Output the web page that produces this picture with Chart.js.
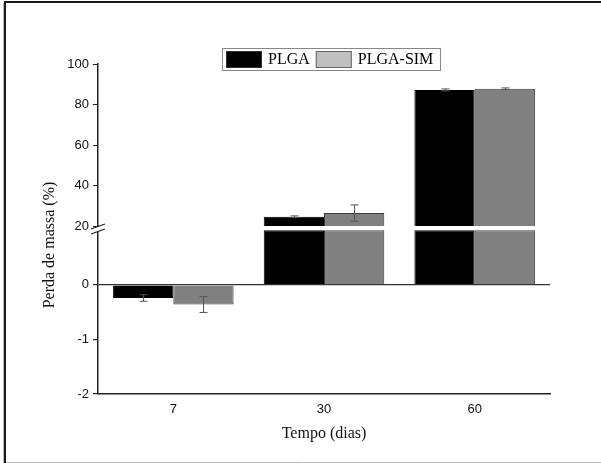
<!DOCTYPE html>
<html>
<head>
<meta charset="utf-8">
<script src="https://cdn.jsdelivr.net/npm/chart.js@4"></script>
<style>
  html, body { margin: 0; padding: 0; background: #fff; }
  #wrap { width: 601px; height: 463px; position: relative; }
</style>
</head>
<body>
<div id="wrap"><canvas id="grafico" width="601" height="463"></canvas></div>
<script>
// dados
const dias = ['7', '30', '60'];
const plga = [-0.24, 24.6, 87.2];
const plgaErro = [0.06, 0.4, 0.5];
const plgaSim = [-0.36, 26.4, 87.8];
const plgaSimErro = [0.145, 4.0, 0.4];

// eixo quebrado: parte de baixo -2..1, parte de cima 20..100
const ticksBaixo = [-2, -1, 0];
const ticksCima = [20, 40, 60, 80, 100];
const QUEBRA = 20;
const TOPO_BAIXO = 1;

const serif = '"Liberation Serif", "Times New Roman", serif';
const sans = '"Liberation Sans", Arial, sans-serif';

// separa a série nas duas partes do eixo
function parteBaixo(vals) {
  return vals.map(v => v < QUEBRA ? v : Math.min(v, TOPO_BAIXO));
}
function parteCima(vals) {
  return vals.map(v => v >= QUEBRA ? v : null);
}
function erroBaixo(vals, err) {
  return vals.map((v, i) => v < QUEBRA ? err[i] : null);
}
function erroCima(vals, err) {
  return vals.map((v, i) => v >= QUEBRA ? err[i] : null);
}

const corPlga = '#000000';
const corSim = '#808080';

// barras de erro
const barrasErro = {
  id: 'barrasErro',
  afterDatasetsDraw(chart) {
    const ctx = chart.ctx;
    ctx.save();
    ctx.strokeStyle = '#555';
    ctx.lineWidth = 1;
    chart.data.datasets.forEach((ds, di) => {
      if (!ds.erros) return;
      const meta = chart.getDatasetMeta(di);
      const escala = chart.scales[ds.yAxisID];
      meta.data.forEach((bar, i) => {
        const v = ds.data[i];
        const e = ds.erros[i];
        if (v === null || e === null) return;
        const x = Math.round(bar.x) + 0.5;
        const y1 = escala.getPixelForValue(v - e);
        const y2 = escala.getPixelForValue(v + e);
        ctx.beginPath();
        ctx.moveTo(x, y1); ctx.lineTo(x, y2);
        ctx.moveTo(x - 4, y1); ctx.lineTo(x + 4, y1);
        ctx.moveTo(x - 4, y2); ctx.lineTo(x + 4, y2);
        ctx.stroke();
      });
    });
    ctx.restore();
  }
};

// moldura, título do eixo y, legenda e marca de quebra
const extras = {
  id: 'extras',
  beforeDraw(chart) {
    const ctx = chart.ctx;
    ctx.save();
    ctx.fillStyle = '#fff';
    ctx.fillRect(0, 0, chart.width, chart.height);
    ctx.strokeStyle = '#bbb';
    ctx.lineWidth = 1;
    ctx.beginPath();
    ctx.moveTo(3.5, 3); ctx.lineTo(3.5, 463);
    ctx.moveTo(4, 462.5); ctx.lineTo(601, 462.5);
    ctx.stroke();
    ctx.strokeStyle = '#1a1a1a';
    ctx.lineWidth = 2;
    ctx.beginPath();
    ctx.moveTo(5, 463); ctx.lineTo(5, 2); ctx.lineTo(601, 2);
    ctx.stroke();
    ctx.restore();
  },
  afterDraw(chart) {
    const ctx = chart.ctx;
    const area = chart.chartArea;
    ctx.save();

    // marca de quebra no eixo
    const yq = chart.scales.yCima.bottom + 2;
    const xq = area.left;
    ctx.fillStyle = '#fff';
    ctx.beginPath();
    ctx.moveTo(xq - 7, yq + 1); ctx.lineTo(xq + 7, yq - 4);
    ctx.lineTo(xq + 7, yq + 1); ctx.lineTo(xq - 7, yq + 6);
    ctx.closePath();
    ctx.fill();
    ctx.strokeStyle = '#222';
    ctx.lineWidth = 1.2;
    ctx.beginPath();
    ctx.moveTo(xq - 7, yq + 1); ctx.lineTo(xq + 7, yq - 4);
    ctx.moveTo(xq - 7, yq + 6); ctx.lineTo(xq + 7, yq + 1);
    ctx.stroke();

    // título do eixo y
    ctx.fillStyle = '#111';
    ctx.font = '16px ' + serif;
    ctx.textAlign = 'center';
    ctx.textBaseline = 'middle';
    ctx.translate(50, 245);
    ctx.rotate(-Math.PI / 2);
    ctx.fillText('Perda de massa (%)', 0, 0);
    ctx.setTransform(1, 0, 0, 1, 0, 0);

    // legenda
    const itens = chart.data.datasets.filter(d => d.legenda);
    ctx.fillStyle = '#fff';
    ctx.fillRect(222, 48, 219, 23);
    ctx.strokeStyle = '#888';
    ctx.lineWidth = 1;
    ctx.strokeRect(222.5, 48.5, 218, 22);
    ctx.font = '16px ' + serif;
    ctx.textAlign = 'left';
    ctx.textBaseline = 'middle';
    let x = 226;
    itens.forEach(d => {
      ctx.fillStyle = d.legenda.fill;
      ctx.fillRect(x, 51, 36, 17);
      ctx.strokeStyle = d.legenda.border;
      ctx.strokeRect(x + 0.5, 51.5, 35, 16);
      ctx.fillStyle = '#000';
      ctx.fillText(d.label, x + 42, 60);
      x += 42 + ctx.measureText(d.label).width + 6;
    });
    ctx.restore();
  }
};

const grade0 = ctx => (ctx.tick && ctx.tick.value === 0) ? '#333' : 'rgba(0,0,0,0)';

new Chart(document.getElementById('grafico'), {
  type: 'bar',
  data: {
    labels: dias,
    datasets: [
      {
        label: 'PLGA', stack: 'PLGA', yAxisID: 'yBaixo',
        data: parteBaixo(plga), erros: erroBaixo(plga, plgaErro),
        backgroundColor: corPlga, borderColor: '#000', borderWidth: 1
      },
      {
        label: 'PLGA-SIM', stack: 'SIM', yAxisID: 'yBaixo',
        data: parteBaixo(plgaSim), erros: erroBaixo(plgaSim, plgaSimErro),
        backgroundColor: corSim, borderColor: '#3c3c3c', borderWidth: 1
      },
      {
        label: 'PLGA', stack: 'PLGA', yAxisID: 'yCima',
        data: parteCima(plga), erros: erroCima(plga, plgaErro),
        backgroundColor: corPlga, borderColor: '#000', borderWidth: 1,
        legenda: { fill: '#000', border: '#333' }
      },
      {
        label: 'PLGA-SIM', stack: 'SIM', yAxisID: 'yCima',
        data: parteCima(plgaSim), erros: erroCima(plgaSim, plgaSimErro),
        backgroundColor: corSim, borderColor: '#3c3c3c', borderWidth: 1,
        legenda: { fill: '#c0c0c0', border: '#666' }
      }
    ]
  },
  options: {
    responsive: false,
    animation: false,
    layout: { padding: { left: 0, top: 64, right: 51, bottom: 0 } },
    categoryPercentage: 0.8,
    barPercentage: 1.0,
    plugins: {
      legend: { display: false },
      tooltip: { enabled: false }
    },
    scales: {
      x: {
        stacked: true,
        grid: { display: true, drawOnChartArea: false, drawTicks: false },
        border: { color: '#222', width: 1.5 },
        ticks: { color: '#111', font: { family: sans, size: 13 }, padding: 8 },
        title: {
          display: true, text: 'Tempo (dias)', color: '#111',
          font: { family: serif, size: 16 }, padding: { top: 9, bottom: 20 }
        },
        afterFit: s => { s.height = 69; }
      },
      yBaixo: {
        type: 'linear', position: 'left', stack: 'y', stackWeight: 168,
        stacked: false,
        min: -2, max: 1.08,
        afterBuildTicks: s => { s.ticks = ticksBaixo.map(v => ({ value: v })); },
        grid: { color: grade0, tickColor: '#222', tickLength: 5, lineWidth: 1.2 },
        border: { color: '#222', width: 1.5 },
        ticks: { color: '#111', font: { family: sans, size: 13 }, padding: 4 },
        afterFit: s => { s.width = 98; }
      },
      yCima: {
        type: 'linear', position: 'left', stack: 'y', stackWeight: 162,
        stacked: false,
        min: 20, max: 100,
        afterBuildTicks: s => { s.ticks = ticksCima.map(v => ({ value: v })); },
        grid: { drawOnChartArea: false, tickColor: '#222', tickLength: 5 },
        border: { color: '#222', width: 1.5 },
        ticks: { color: '#111', font: { family: sans, size: 13 }, padding: 4 },
        afterFit: s => { s.width = 98; }
      }
    }
  },
  plugins: [extras, barrasErro]
});
</script>
</body>
</html>
